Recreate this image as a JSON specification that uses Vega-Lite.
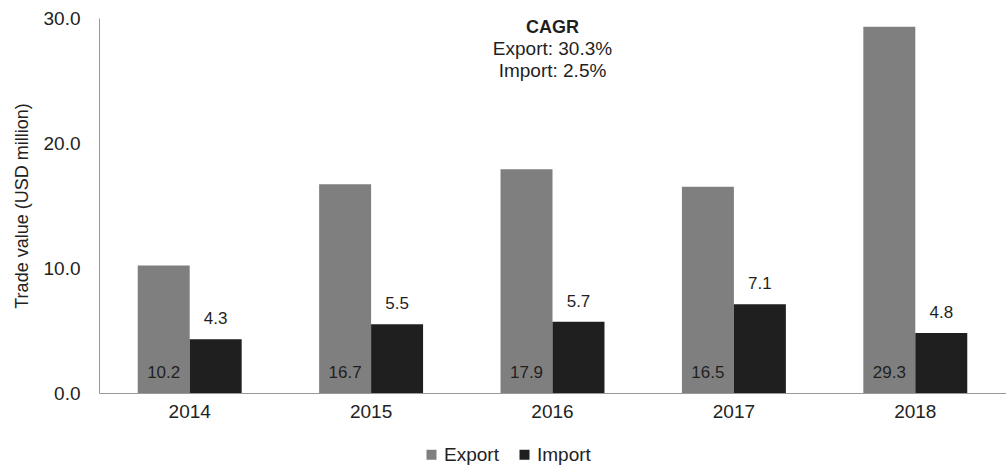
{
  "$schema": "https://vega.github.io/schema/vega-lite/v6.json",
  "width": 907,
  "height": 375,
  "autosize": {"type": "none"},
  "padding": {"left": 99, "top": 18, "right": 0, "bottom": 73},
  "background": "white",
  "config": {
    "view": {"stroke": null},
    "font": "Liberation Sans",
    "text": {"font": "Liberation Sans"}
  },
  "datasets": {
    "trade": [
      {"year": "2014", "series": "Export", "value": 10.2},
      {"year": "2014", "series": "Import", "value": 4.3},
      {"year": "2015", "series": "Export", "value": 16.7},
      {"year": "2015", "series": "Import", "value": 5.5},
      {"year": "2016", "series": "Export", "value": 17.9},
      {"year": "2016", "series": "Import", "value": 5.7},
      {"year": "2017", "series": "Export", "value": 16.5},
      {"year": "2017", "series": "Import", "value": 7.1},
      {"year": "2018", "series": "Export", "value": 29.3},
      {"year": "2018", "series": "Import", "value": 4.8}
    ],
    "notes": [
      {"year": "2016", "text": "CAGR", "pos": 29.2, "weight": "bold"},
      {"year": "2016", "text": "Export: 30.3%", "pos": 27.55, "weight": "normal"},
      {"year": "2016", "text": "Import: 2.5%", "pos": 25.8, "weight": "normal"}
    ]
  },
  "layer": [
    {
      "data": {"name": "trade"},
      "mark": {"type": "bar"},
      "encoding": {
        "x": {
          "field": "year", "type": "nominal",
          "scale": {"paddingInner": 0.427, "paddingOuter": 0.2135},
          "axis": {
            "title": null, "labelAngle": 0, "ticks": false,
            "labelFontSize": 19, "labelColor": "#222", "labelPadding": 9,
            "domainColor": "#999", "labelFont": "Liberation Sans"
          }
        },
        "xOffset": {"field": "series", "type": "nominal", "scale": {"paddingInner": 0}},
        "y": {
          "field": "value", "type": "quantitative",
          "scale": {"domain": [0, 30], "nice": false},
          "axis": {
            "title": "Trade value (USD million)", "values": [0, 10, 20, 30],
            "format": ".1f", "grid": false, "ticks": false,
            "labelFontSize": 19, "labelColor": "#222", "labelPadding": 19,
            "titleFontSize": 18, "titleFontWeight": "normal", "titleColor": "#222",
            "titlePadding": 12, "domainColor": "#999",
            "labelFont": "Liberation Sans", "titleFont": "Liberation Sans"
          }
        },
        "color": {
          "field": "series", "type": "nominal",
          "scale": {"domain": ["Export", "Import"], "range": ["#7f7f7f", "#1f1f1f"]},
          "legend": {
            "title": null, "orient": "none", "direction": "horizontal",
            "legendX": 323, "legendY": 427,
            "symbolType": "square", "symbolSize": 100, "symbolStrokeWidth": 0,
            "labelFontSize": 19, "labelColor": "#222", "labelFont": "Liberation Sans",
            "columnPadding": 16, "labelOffset": 3
          }
        }
      }
    },
    {
      "data": {"name": "trade"},
      "transform": [{"filter": "datum.series === 'Export'"}],
      "mark": {"type": "text", "baseline": "bottom", "dy": -11, "fontSize": 17, "color": "#1f1f1f"},
      "encoding": {
        "x": {"field": "year", "type": "nominal"},
        "xOffset": {"field": "series", "type": "nominal"},
        "y": {"datum": 0, "type": "quantitative"},
        "text": {"field": "value", "type": "quantitative", "format": ".1f"}
      }
    },
    {
      "data": {"name": "trade"},
      "transform": [{"filter": "datum.series === 'Import'"}],
      "mark": {"type": "text", "baseline": "bottom", "dy": -11, "fontSize": 17, "color": "#1f1f1f"},
      "encoding": {
        "x": {"field": "year", "type": "nominal"},
        "xOffset": {"field": "series", "type": "nominal"},
        "y": {"field": "value", "type": "quantitative"},
        "text": {"field": "value", "type": "quantitative", "format": ".1f"}
      }
    },
    {
      "data": {"name": "notes"},
      "transform": [{"filter": "datum.weight === 'bold'"}],
      "mark": {"type": "text", "baseline": "middle", "fontSize": 18, "fontWeight": "bold", "color": "#1f1f1f"},
      "encoding": {
        "x": {"field": "year", "type": "nominal"},
        "y": {"field": "pos", "type": "quantitative"},
        "text": {"field": "text"}
      }
    },
    {
      "data": {"name": "notes"},
      "transform": [{"filter": "datum.weight === 'normal'"}],
      "mark": {"type": "text", "baseline": "middle", "fontSize": 19, "color": "#1f1f1f"},
      "encoding": {
        "x": {"field": "year", "type": "nominal"},
        "y": {"field": "pos", "type": "quantitative"},
        "text": {"field": "text"}
      }
    }
  ]
}
